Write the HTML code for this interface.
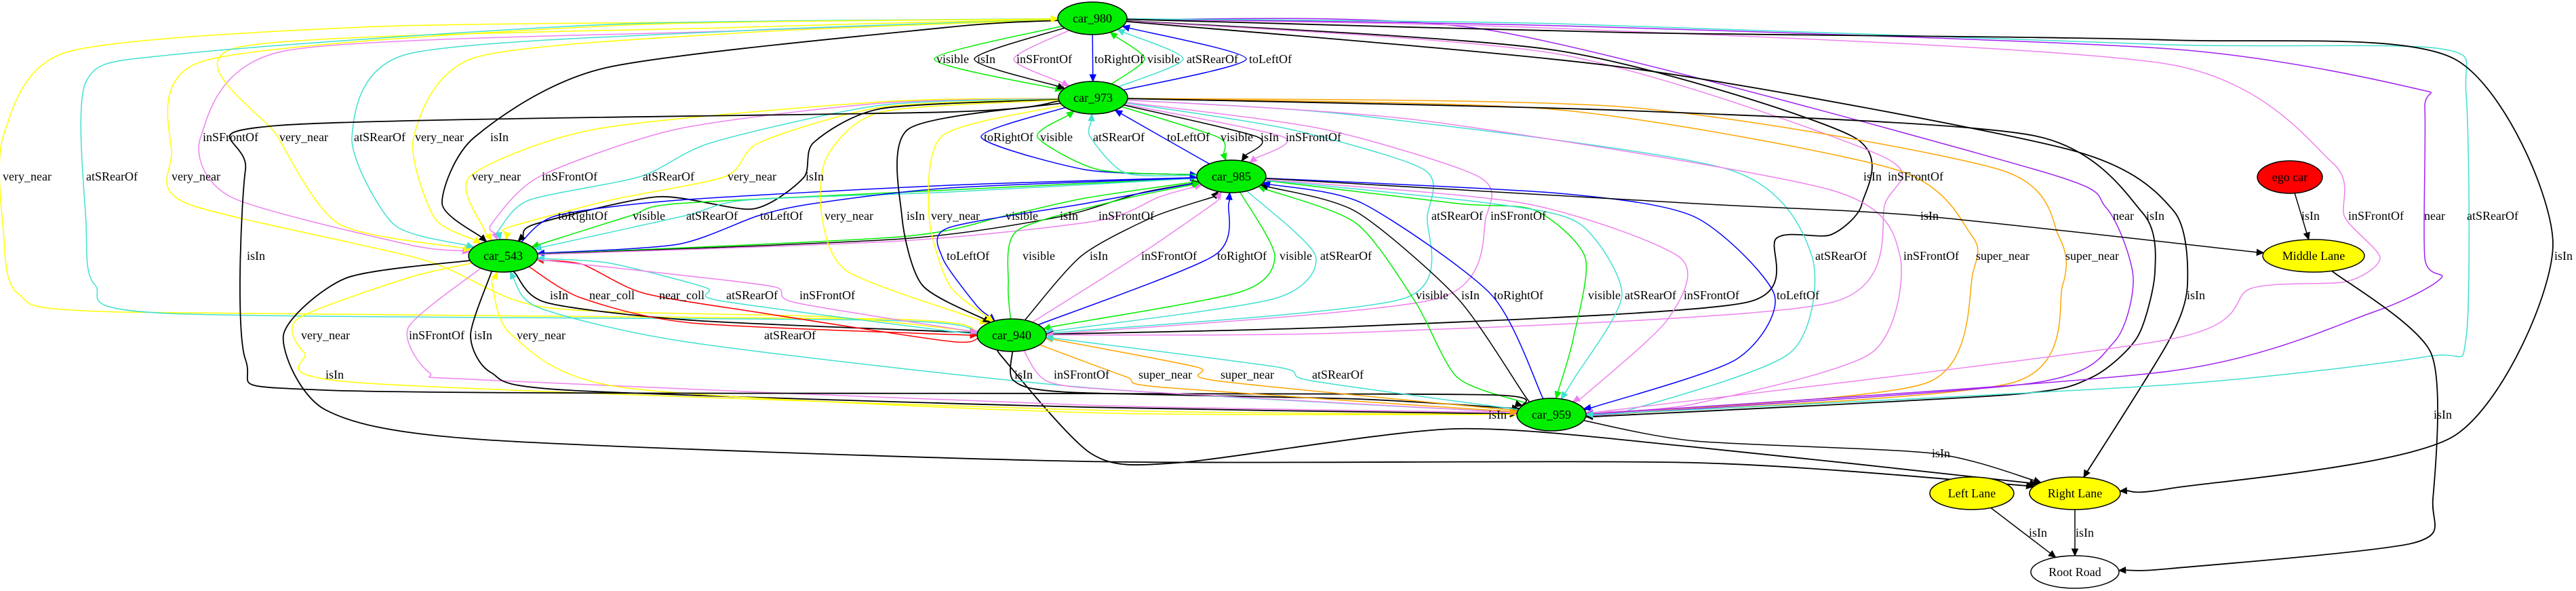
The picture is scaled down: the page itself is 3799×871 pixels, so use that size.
<!DOCTYPE html>
<html><head><meta charset="utf-8"><style>
html,body{margin:0;padding:0;background:#fff;}
svg{display:block;}
text{font-family:"Liberation Serif","Times New Roman",serif;font-size:18px;fill:#000;}
</style></head><body>
<svg id="g" width="3799" height="871" viewBox="0 0 3799 871" xmlns="http://www.w3.org/2000/svg">
<g id="edges"></g>
<g id="labels">
<text x="1381" y="93">visible</text><text x="1441" y="93">isIn</text><text x="1499" y="93">inSFrontOf</text><text x="1614" y="93">toRightOf</text><text x="1692" y="93">visible</text><text x="1750" y="93">atSRearOf</text><text x="1842" y="93">toLeftOf</text>
<text x="299" y="208">inSFrontOf</text><text x="412" y="208">very_near</text><text x="522" y="208">atSRearOf</text><text x="612" y="208">very_near</text><text x="723" y="208">isIn</text><text x="1451" y="208">toRightOf</text><text x="1534" y="208">visible</text><text x="1612" y="208">atSRearOf</text><text x="1721" y="208">toLeftOf</text><text x="1800" y="208">visible</text><text x="1859" y="208">isIn</text><text x="1896" y="208">inSFrontOf</text>
<text x="4" y="266">very_near</text><text x="127" y="266">atSRearOf</text><text x="253" y="266">very_near</text><text x="696" y="266">very_near</text><text x="799" y="266">inSFrontOf</text><text x="948" y="266">atSRearOf</text><text x="1073" y="266">very_near</text><text x="1188" y="266">isIn</text><text x="2748" y="266">isIn</text><text x="2784" y="266">inSFrontOf</text>
<text x="823" y="324">toRightOf</text><text x="933" y="324">visible</text><text x="1012" y="324">atSRearOf</text><text x="1121" y="324">toLeftOf</text><text x="1216" y="324">very_near</text><text x="1337" y="324">isIn</text><text x="1373" y="324">very_near</text><text x="1483" y="324">visible</text><text x="1563" y="324">isIn</text><text x="1620" y="324">inSFrontOf</text><text x="2111" y="324">atSRearOf</text><text x="2198" y="324">inSFrontOf</text><text x="2832" y="324">isIn</text><text x="3116" y="324">near</text><text x="3165" y="324">isIn</text><text x="3394" y="324">isIn</text><text x="3463" y="324">inSFrontOf</text><text x="3575" y="324">near</text><text x="3638" y="324">atSRearOf</text>
<text x="364" y="383">isIn</text><text x="1396" y="383">toLeftOf</text><text x="1508" y="383">visible</text><text x="1607" y="383">isIn</text><text x="1683" y="383">inSFrontOf</text><text x="1795" y="383">toRightOf</text><text x="1887" y="383">visible</text><text x="1947" y="383">atSRearOf</text><text x="2677" y="383">atSRearOf</text><text x="2807" y="383">inSFrontOf</text><text x="2914" y="383">super_near</text><text x="3046" y="383">super_near</text><text x="3767" y="383">isIn</text>
<text x="811" y="441">isIn</text><text x="869" y="441">near_coll</text><text x="972" y="441">near_coll</text><text x="1071" y="441">atSRearOf</text><text x="1179" y="441">inSFrontOf</text><text x="2088" y="441">visible</text><text x="2155" y="441">isIn</text><text x="2203" y="441">toRightOf</text><text x="2342" y="441">visible</text><text x="2396" y="441">atSRearOf</text><text x="2483" y="441">inSFrontOf</text><text x="2620" y="441">toLeftOf</text><text x="3225" y="441">isIn</text>
<text x="444" y="500">very_near</text><text x="603" y="500">inSFrontOf</text><text x="699" y="500">isIn</text><text x="762" y="500">very_near</text><text x="1127" y="500">atSRearOf</text>
<text x="480" y="558">isIn</text><text x="1496" y="558">isIn</text><text x="1554" y="558">inSFrontOf</text><text x="1679" y="558">super_near</text><text x="1800" y="558">super_near</text><text x="1935" y="558">atSRearOf</text>
<text x="2195" y="617">isIn</text><text x="3589" y="617">isIn</text>
<text x="2849" y="674">isIn</text>
<text x="2992" y="791">isIn</text><text x="3061" y="791">isIn</text>
</g>
<g id="nodes" stroke="#000" stroke-width="1.5">
<ellipse cx="1611" cy="27" rx="51" ry="24" fill="#00ee00"/>
<ellipse cx="1612" cy="144" rx="51" ry="24" fill="#00ee00"/>
<ellipse cx="1816" cy="260" rx="51" ry="24" fill="#00ee00"/>
<ellipse cx="742" cy="377" rx="51" ry="24" fill="#00ee00"/>
<ellipse cx="1492" cy="494" rx="51" ry="24" fill="#00ee00"/>
<ellipse cx="2288" cy="611" rx="51" ry="24" fill="#00ee00"/>
<ellipse cx="3377" cy="261" rx="48" ry="24" fill="#ff0000"/>
<ellipse cx="3412" cy="377" rx="75" ry="24" fill="#ffff00"/>
<ellipse cx="2908" cy="727" rx="62" ry="24" fill="#ffff00"/>
<ellipse cx="3060" cy="727" rx="67" ry="24" fill="#ffff00"/>
<ellipse cx="3060" cy="843" rx="65" ry="24" fill="#ffffff"/>
</g>
<g text-anchor="middle">
<text x="1611" y="33">car_980</text><text x="1612" y="150">car_973</text><text x="1816" y="266">car_985</text><text x="742" y="383">car_543</text><text x="1492" y="500">car_940</text><text x="2288" y="617">car_959</text><text x="3377" y="267">ego car</text><text x="3412" y="383">Middle Lane</text><text x="2908" y="733">Left Lane</text><text x="3060" y="733">Right Lane</text><text x="3060" y="849">Root Road</text>
</g>
</svg>
<script>
var N={A:[1611,27,51,24],B:[1612,144,51,24],C:[1816,260,51,24],D:[742,377,51,24],E:[1492,494,51,24],F:[2288,611,51,24],G:[3377,261,48,24],M:[3412,377,75,24],L:[2908,727,62,24],R:[3060,727,67,24],O:[3060,843,65,24]};
var G='#00ee00',T='#40e0d0',V='#ee82ee',Y='#ffff00',BL='#0000ff',K='#000000',OR='#ffa500',P='#a020f0',RD='#ff0000';
var E=[
['A','B',G,[[1378,87]]],['A','B',K,[[1437,87]]],['A','B',V,[[1495,87]]],['A','B',BL,[]],['B','A',G,[[1688,87]]],['B','A',T,[[1745,87]]],['B','A',BL,[[1838,87]]],
['B','C',BL,[[1447,202],[1600,250]]],['C','B',G,[[1620,250],[1530,202]]],['C','B',T,[[1660,255],[1608,202]]],['C','B',BL,[]],['B','C',G,[[1796,202]]],['B','C',K,[[1855,202]]],['B','C',V,[[1893,202]]],
['A','D',V,[[1100,45],[420,75],[296,202],[340,290],[600,360]]],['A','D',Y,[[1100,40],[350,70],[410,202],[500,330]]],['A','D',T,[[1100,45],[600,80],[519,202],[580,330]]],['A','D',Y,[[1100,48],[700,85],[610,202],[640,320]]],['A','D',K,[[1400,40],[893,100],[700,202],[652,300]]],
['E','A',Y,[[1300,470],[178,460],[27,433],[5,340],[5,200],[98,77],[535,40],[1100,32]]],['E','A',T,[[1300,472],[250,462],[140,420],[127,330],[127,120],[260,80],[900,36]]],['E','A',Y,[[1224,467],[804,453],[625,383],[276,300],[253,230],[300,90],[900,38]]],
['B','D',Y,[[1300,150],[880,190],[693,260],[715,340]]],['B','D',V,[[1300,152],[1000,190],[796,260],[725,330]]],['B','D',T,[[1300,155],[1050,210],[945,260],[780,295],[735,340]]],['B','D',Y,[[1300,158],[1120,210],[1070,260],[900,295],[750,335]]],['B','D',K,[[1300,160],[1200,210],[1185,262],[1110,308],[970,290],[790,330]]],
['D','C',BL,[[820,318],[1000,295],[1400,273]]],['C','D',G,[[1400,280],[1000,300],[930,318]]],['C','D',T,[[1400,283],[1100,295],[1010,318]]],['C','D',BL,[[1400,277],[1200,300],[1118,318],[1000,360]]],
['D','C',G,[[1327,349],[1483,318],[1600,292]]],['D','C',K,[[1330,352],[1560,320],[1680,285]]],['D','C',V,[[1330,355],[1620,325],[1710,290]]],
['C','E',BL,[[1600,300],[1398,336],[1390,380],[1440,450]]],['B','E',Y,[[1300,165],[1220,230],[1212,318],[1250,400],[1440,470]]],['B','E',K,[[1340,190],[1330,318],[1360,420],[1455,472]]],['B','E',Y,[[1390,200],[1370,318],[1400,420],[1460,470]]],
['E','C',G,[[1487,420],[1500,340],[1650,295]]],['E','C',K,[[1595,377],[1700,320],[1790,290]]],['E','C',V,[[1678,377],[1790,300]]],['E','C',BL,[[1790,377],[1812,300]]],['C','E',G,[[1880,377],[1830,430],[1560,480]]],['C','E',T,[[1940,377],[1880,440],[1560,487]]],
['B','E',T,[[1900,190],[2100,250],[2105,318],[2070,440],[1560,490]]],['B','E',V,[[1950,190],[2180,260],[2192,318],[2120,440],[1560,492]]],
['A','E',K,[[2300,75],[2730,200],[2746,300],[2700,346],[2620,351],[2574,446],[2000,481]]],['A','E',V,[[2300,80],[2775,230],[2780,300],[2700,446],[2000,490]]],
['F','C',G,[[2247,593],[2149,556],[2088,446],[2000,329]]],['F','C',K,[[2250,585],[2150,440],[2000,312]]],['F','C',BL,[[2275,586],[2200,435],[2010,300]]],
['C','F',G,[[2150,300],[2264,310],[2338,380],[2320,500]]],['C','F',T,[[2200,300],[2330,330],[2392,435],[2320,560]]],['C','F',V,[[2250,300],[2478,380],[2460,470],[2340,580]]],['C','F',BL,[[2300,285],[2500,320],[2617,435],[2560,530],[2350,600]]],
['B','F',T,[[2000,170],[2550,250],[2672,377],[2640,520],[2400,605]]],['B','F',V,[[2100,178],[2700,280],[2802,377],[2760,520],[2500,595],[2350,608]]],
['B','F',OR,[[2300,162],[2796,250],[2907,346],[2910,400],[2842,564],[2350,610]]],['B','F',OR,[[2400,158],[2949,250],[3037,350],[3042,420],[2968,564],[2350,612]]],
['A','F',P,[[2200,45],[3002,250],[3106,306],[3146,409],[3117,505],[2995,565],[2350,612]]],['B','F',K,[[2400,163],[3000,200],[3160,314],[3178,401],[3152,497],[3083,557],[2960,582],[2350,614]]],
['A','R',K,[[2400,100],[3050,220],[3205,310],[3226,420],[3197,505],[3075,700]]],['C','M',K,[[2500,300],[2832,318],[3330,372]]],
['A','F',V,[[2300,42],[3200,95],[3440,240],[3458,320],[3510,380],[3460,415],[3320,425],[3200,500],[2350,608]]],
['A','F',P,[[2300,38],[3200,72],[3560,130],[3576,160],[3576,380],[3600,410],[3500,460],[3200,547],[2350,610]]],
['A','F',T,[[2300,35],[3200,66],[3600,72],[3637,140],[3637,497],[3582,525],[3200,567],[2350,611]]],
['A','R',K,[[2400,48],[3200,59],[3620,87],[3765,360],[3620,642],[3200,720]]],
['G','M',K,[]],['M','O',K,[[3585,520],[3588,735],[3560,800],[3200,838]]],['F','R',K,[[2500,650],[2849,668],[3000,708]]],['L','O',K,[]],['R','O',K,[]],
['E','R',K,[[1477,525],[1610,669],[1737,682],[2144,632],[2500,659],[2995,712]]],['D','R',K,[[510,410],[418,494],[480,604],[714,648],[1600,680],[2500,682],[2990,716]]],
['D','F',Y,[[600,410],[439,470],[449,520],[530,564],[1600,604],[2230,611]]],['D','F',V,[[704,399],[602,483],[633,549],[714,560],[1600,597],[2230,608]]],['D','F',K,[[724,403],[694,494],[724,549],[837,575],[1600,600],[2230,610]]],
['F','D',Y,[[1600,608],[918,571],[755,494],[726,420]]],['F','D',T,[[1600,571],[1020,505],[796,454],[757,410]]],
['D','E',K,[[760,403],[806,446],[1020,472],[1430,490]]],['D','E',RD,[[780,393],[857,439],[1020,476],[1430,494]]],['E','D',RD,[[1400,503],[1122,461],[949,432],[860,390]]],['E','D',T,[[1400,488],[1061,443],[1041,424],[900,388]]],['D','E',V,[[1000,405],[1143,423],[1173,446],[1430,488]]],
['B','F',K,[[1400,165],[410,185],[362,250],[362,530],[480,575],[1600,580],[2200,582],[2245,598]]],
['E','F',K,[[1495,561],[1575,578],[2000,588],[2235,602]]],['E','F',V,[[1547,563],[1681,577],[2235,608]]],['E','F',OR,[[1533,508],[1660,555],[1716,571],[2235,607]]],['F','E',OR,[[2235,605],[1793,561],[1765,541],[1547,499]]],['F','E',T,[[2235,603],[1933,561],[1884,541],[1551,498]]]
];
function bnd(n,p){var c=N[n],dx=p[0]-c[0],dy=p[1]-c[1];var t=1/Math.sqrt((dx/c[2])*(dx/c[2])+(dy/c[3])*(dy/c[3]));return [c[0]+dx*t,c[1]+dy*t];}
var out='';var TN=8;
E.forEach(function(e){
 var s=N[e[0]],t=N[e[1]],w=e[3];
 var p0=bnd(e[0],w.length?w[0]:[t[0],t[1]]);
 var last=w.length?w[w.length-1]:[s[0],s[1]];
 var tip=bnd(e[1],last);
 var dx=tip[0]-last[0],dy=tip[1]-last[1],L=Math.sqrt(dx*dx+dy*dy)||1;dx/=L;dy/=L;
 var base=[tip[0]-dx*10,tip[1]-dy*10];
 var pts=[p0].concat(w,[base]);
 var d='M'+pts[0][0].toFixed(1)+','+pts[0][1].toFixed(1);
 for(var i=0;i<pts.length-1;i++){
  var a=pts[i>0?i-1:0],b=pts[i],c=pts[i+1],q=pts[i+2<pts.length?i+2:i+1];
  var c1=[b[0]+(c[0]-a[0])/TN,b[1]+(c[1]-a[1])/TN],c2=[c[0]-(q[0]-b[0])/TN,c[1]-(q[1]-b[1])/TN];
  d+=' C'+c1[0].toFixed(1)+','+c1[1].toFixed(1)+' '+c2[0].toFixed(1)+','+c2[1].toFixed(1)+' '+c[0].toFixed(1)+','+c[1].toFixed(1);
 }
 var sw=(e[2]==K&&w.length>3)?1.8:1.5;
 out+='<path d="'+d+'" fill="none" stroke="'+e[2]+'" stroke-width="'+sw+'"/>';
 var px=-dy,py=dx;
 out+='<polygon points="'+tip[0].toFixed(1)+','+tip[1].toFixed(1)+' '+(base[0]+px*4.5).toFixed(1)+','+(base[1]+py*4.5).toFixed(1)+' '+(base[0]-px*4.5).toFixed(1)+','+(base[1]-py*4.5).toFixed(1)+'" fill="'+e[2]+'" stroke="'+e[2]+'"/>';
});
document.getElementById('edges').innerHTML=out;
</script>
</body></html>
